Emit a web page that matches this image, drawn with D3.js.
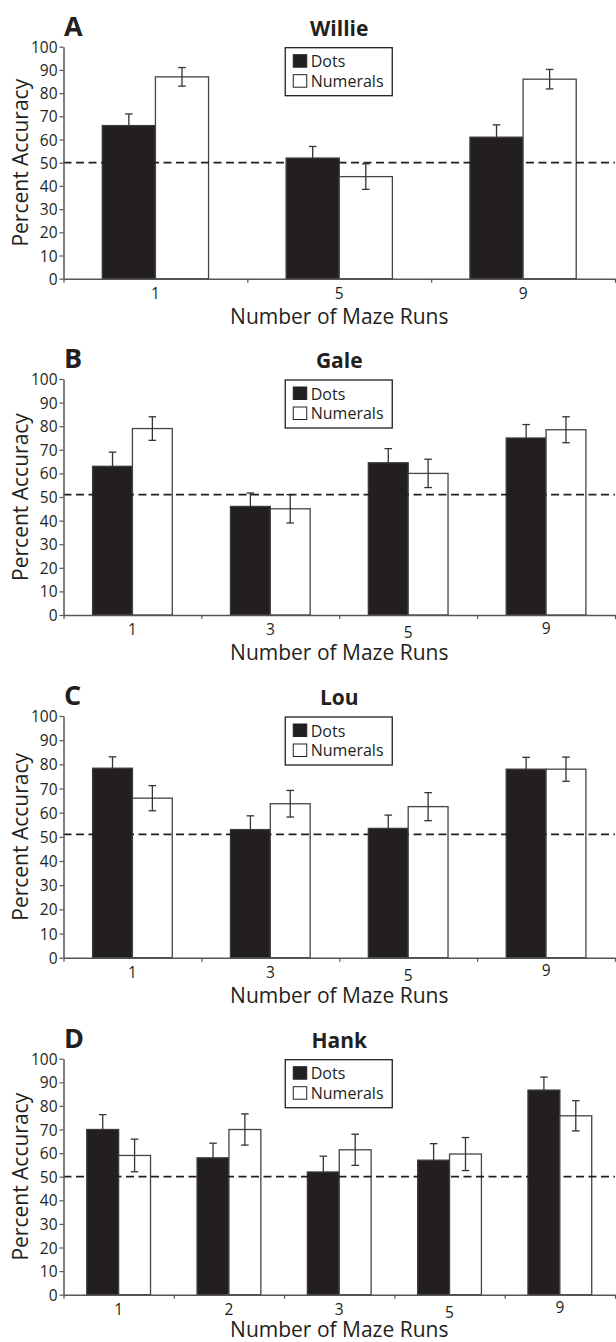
<!DOCTYPE html>
<html>
<head>
<meta charset="utf-8">
<script src="https://cdn.jsdelivr.net/npm/d3@7"></script>
<style>
  html, body { margin: 0; padding: 0; background: #fff; }
  svg { display: block; }
  text { font-family: "Open Sans", "Noto Sans", sans-serif; fill: #231f20; }
</style>
</head>
<body>
<svg id="chart" width="616" height="1342"></svg>
<script>
// ---------------- DATA ----------------
const panelLetters = ["A", "B", "C", "D"];
const subjects = ["Willie", "Gale", "Lou", "Hank"];
const seriesNames = ["Dots", "Numerals"];
const yTicks = [0, 10, 20, 30, 40, 50, 60, 70, 80, 90, 100];
const xTitle = "Number of Maze Runs";
const yTitle = "Percent Accuracy";

const runsWillie = ["1", "5", "9"];
const dotsWillie = [66, 52, 61];
const dotsErrWillie = [5, 5, 5.3];
const numeralsWillie = [87, 44, 86];
const numeralsErrWillie = [4, 5.5, 4.2];
const chanceWillie = 50;

const runsGale = ["1", "3", "5", "9"];
const dotsGale = [63, 46, 64.5, 75];
const dotsErrGale = [6, 5.7, 6, 5.7];
const numeralsGale = [79, 45, 60, 78.5];
const numeralsErrGale = [5, 6, 6, 5.5];
const chanceGale = 51;

const runsLou = ["1", "3", "5", "9"];
const dotsLou = [78.4, 53, 53.5, 78];
const dotsErrLou = [4.7, 5.7, 5.5, 4.9];
const numeralsLou = [66, 63.7, 62.5, 78];
const numeralsErrLou = [5.2, 5.5, 5.8, 5];
const chanceLou = 51;

const runsHank = ["1", "2", "3", "5", "9"];
const dotsHank = [70, 58, 52, 57, 86.7];
const dotsErrHank = [6.3, 6.2, 6.7, 7, 5.5];
const numeralsHank = [59, 70, 61.4, 59.6, 75.8];
const numeralsErrHank = [6.9, 6.6, 6.6, 7, 6.4];
const chanceHank = 50;

// Build panel tables from the arrays
const panelData = [
  { runs: runsWillie, dots: dotsWillie, dErr: dotsErrWillie, nums: numeralsWillie, nErr: numeralsErrWillie, chance: chanceWillie },
  { runs: runsGale,   dots: dotsGale,   dErr: dotsErrGale,   nums: numeralsGale,   nErr: numeralsErrGale,   chance: chanceGale },
  { runs: runsLou,    dots: dotsLou,    dErr: dotsErrLou,    nums: numeralsLou,    nErr: numeralsErrLou,    chance: chanceLou },
  { runs: runsHank,   dots: dotsHank,   dErr: dotsErrHank,   nums: numeralsHank,   nErr: numeralsErrHank,   chance: chanceHank }
];

// ---------------- LAYOUT ----------------
const plotLeft = 63.5, plotRight = 615;
const plotTops = [46.7, 379, 716, 1058.7];
const plotBottoms = [278.7, 615, 957.7, 1294.7];
const xTitleOffsets = [45, 45, 45, 42];
const ink = "#231f20";
const axisGrey = "#555";

const svg = d3.select("#chart");

panelData.forEach((p, i) => {
  const g = svg.append("g");
  const top = plotTops[i], bottom = plotBottoms[i];
  const y = d3.scaleLinear().domain([0, 100]).range([bottom, top]);
  const x0 = d3.scaleBand().domain(p.runs).range([plotLeft, plotRight])
    .paddingInner(0.422).paddingOuter(0.211);
  const x1 = d3.scaleBand().domain(seriesNames).range([0, x0.bandwidth()]);
  const xb = d3.scaleLinear().domain([0, p.runs.length]).range([plotLeft, plotRight]);

  const rows = p.runs.map((r, k) => ({
    run: r,
    values: [
      { s: "Dots", v: p.dots[k], e: p.dErr[k] },
      { s: "Numerals", v: p.nums[k], e: p.nErr[k] }
    ]
  }));

  const grp = g.selectAll("g.grp").data(rows).join("g")
    .attr("class", "grp")
    .attr("transform", d => `translate(${x0(d.run)},0)`);

  const cap = 3.8;
  function errorBars(sel) {
    sel.attr("stroke", "#333").attr("stroke-width", 1.3);
    sel.append("line")
      .attr("x1", d => x1(d.s) + x1.bandwidth() / 2)
      .attr("x2", d => x1(d.s) + x1.bandwidth() / 2)
      .attr("y1", d => y(d.v + d.e)).attr("y2", d => y(d.v - d.e));
    sel.append("line")
      .attr("x1", d => x1(d.s) + x1.bandwidth() / 2 - cap)
      .attr("x2", d => x1(d.s) + x1.bandwidth() / 2 + cap)
      .attr("y1", d => y(d.v + d.e)).attr("y2", d => y(d.v + d.e));
    sel.append("line")
      .attr("x1", d => x1(d.s) + x1.bandwidth() / 2 - cap)
      .attr("x2", d => x1(d.s) + x1.bandwidth() / 2 + cap)
      .attr("y1", d => y(d.v - d.e)).attr("y2", d => y(d.v - d.e));
  }

  // error bars of dark bars (lower half hidden by the bar)
  grp.selectAll("g.ebd").data(d => d.values.filter(v => v.s === "Dots")).join("g")
    .attr("class", "ebd").call(errorBars);

  // bars
  grp.selectAll("rect.bar").data(d => d.values).join("rect")
    .attr("class", "bar")
    .attr("x", d => x1(d.s))
    .attr("y", d => y(d.v))
    .attr("width", x1.bandwidth())
    .attr("height", d => y(0) - y(d.v))
    .attr("fill", d => d.s === "Dots" ? ink : "#fff")
    .attr("stroke", d => d.s === "Dots" ? "#3a3a3a" : "#444")
    .attr("stroke-width", 1.3);

  // error bars of white bars
  grp.selectAll("g.ebn").data(d => d.values.filter(v => v.s === "Numerals")).join("g")
    .attr("class", "ebn").call(errorBars);

  // chance line
  g.append("line")
    .attr("x1", plotLeft).attr("x2", plotRight)
    .attr("y1", y(p.chance)).attr("y2", y(p.chance))
    .attr("stroke", ink).attr("stroke-width", 1.8)
    .attr("stroke-dasharray", "8,4.5");

  // y axis
  const yAxis = g.append("g").attr("transform", `translate(${plotLeft},0)`)
    .call(d3.axisLeft(y).tickValues(yTicks).tickSize(4).tickSizeOuter(0).tickPadding(2));
  yAxis.select(".domain").attr("stroke", axisGrey).attr("stroke-width", 1.5);
  yAxis.selectAll(".tick line").attr("stroke", axisGrey).attr("stroke-width", 1.2);
  yAxis.selectAll(".tick text").attr("font-size", 15.5).style("font-size", "15.5px")
    .style("font-family", "'Open Sans', sans-serif").attr("fill", ink).attr("dy", "0.36em");

  // x axis: boundary ticks
  const xAxisB = g.append("g").attr("transform", `translate(0,${bottom})`)
    .call(d3.axisBottom(xb).tickValues(d3.range(p.runs.length + 1)).tickFormat("").tickSize(4).tickSizeOuter(0));
  xAxisB.select(".domain").attr("stroke", axisGrey).attr("stroke-width", 1.5);
  xAxisB.selectAll(".tick line").attr("stroke", axisGrey).attr("stroke-width", 1.2);

  // x axis: category labels
  const xAxisL = g.append("g").attr("transform", `translate(0,${bottom})`)
    .call(d3.axisBottom(x0).tickSize(0).tickPadding(9));
  xAxisL.select(".domain").remove();
  xAxisL.selectAll(".tick text").attr("font-size", 15.5).style("font-size", "15.5px")
    .style("font-family", "'Open Sans', sans-serif").attr("fill", ink)
    .attr("dy", d => (i > 0 && d === "5") ? "0.92em" : (i > 0 && d === "9" ? "0.62em" : "0.71em"));

  // axis titles
  g.append("text")
    .attr("x", (plotLeft + plotRight) / 2).attr("y", bottom + xTitleOffsets[i])
    .attr("text-anchor", "middle").style("font-size", "21px")
    .text(xTitle);
  g.append("text")
    .attr("transform", `translate(28,${(top + bottom) / 2}) rotate(-90)`)
    .attr("text-anchor", "middle").style("font-size", "21px")
    .text(yTitle);

  // panel letter and subject title
  g.append("text").attr("x", 64).attr("y", top - 11)
    .style("font-size", "27px").style("font-weight", "bold").text(panelLetters[i]);
  g.append("text").attr("x", (plotLeft + plotRight) / 2).attr("y", top - 11)
    .attr("text-anchor", "middle").style("font-size", "21px").style("font-weight", "bold")
    .text(subjects[i]);

  // legend
  const lw = 107, lh = 48;
  const lx = (plotLeft + plotRight) / 2 - lw / 2 - 0.5, ly = top + 1;
  const lg = g.append("g").attr("transform", `translate(${lx},${ly})`);
  lg.append("rect").attr("width", lw).attr("height", lh)
    .attr("fill", "#fff").attr("stroke", ink).attr("stroke-width", 1.3);
  seriesNames.forEach((s, k) => {
    lg.append("rect").attr("x", 8).attr("y", 7 + k * 20).attr("width", 13.5).attr("height", 12.5)
      .attr("fill", s === "Dots" ? ink : "#fff").attr("stroke", ink).attr("stroke-width", 1);
    lg.append("text").attr("x", 25.5).attr("y", 19.5 + k * 19.5)
      .style("font-size", "16px").text(s);
  });
});
</script>
</body>
</html>
